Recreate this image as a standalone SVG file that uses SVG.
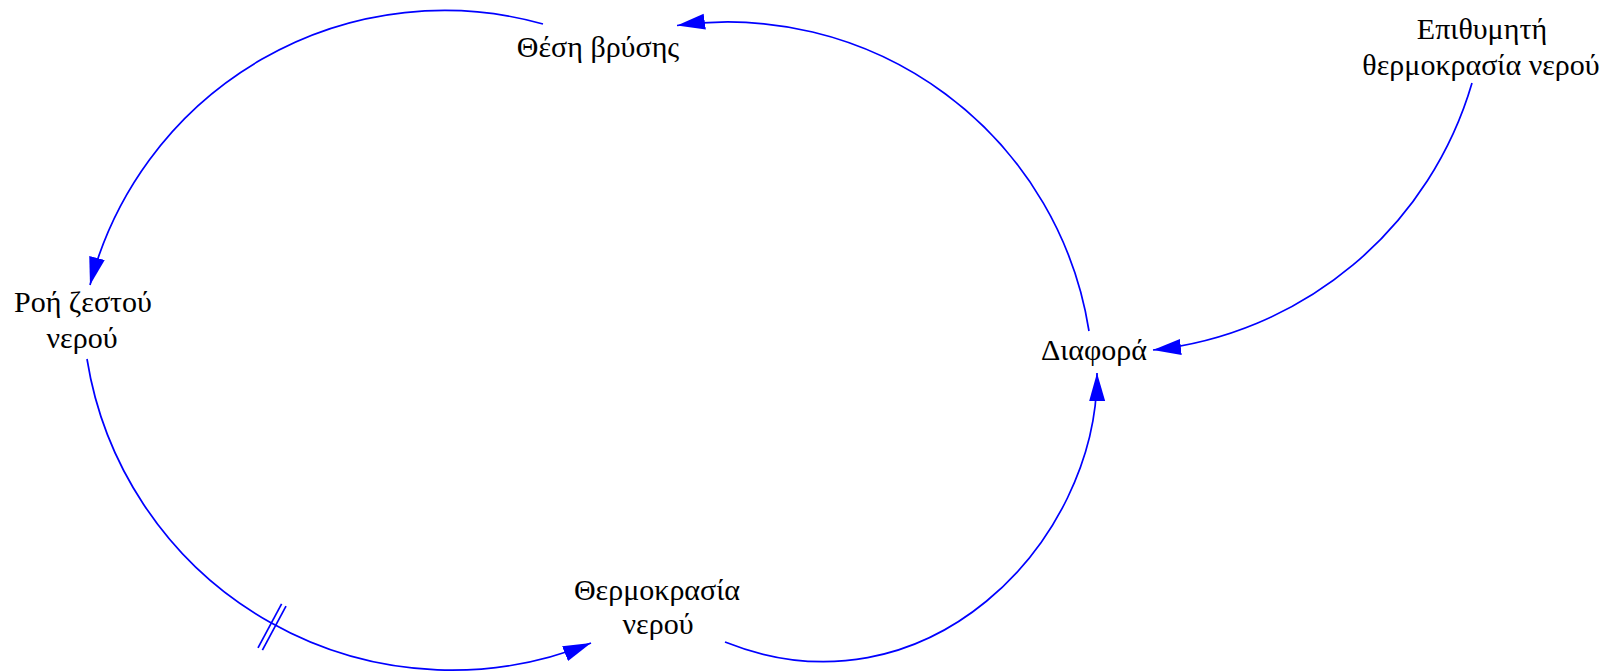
<svg xmlns="http://www.w3.org/2000/svg" width="1622" height="672" viewBox="0 0 1622 672">
<style>
text{font-family:"Liberation Serif","Times New Roman",serif;font-size:30px;fill:#000;text-anchor:middle}
.c{fill:none;stroke:#0000ff;stroke-width:1.7}
</style>
<defs>
<marker id="ah" markerUnits="userSpaceOnUse" markerWidth="30" markerHeight="18" refX="28" refY="8" orient="auto">
<path d="M0,0 L28,8 L0,16 Z" fill="#0000ff"/>
</marker>
</defs>
<rect width="1622" height="672" fill="#fff"/>
<g id="connectors">
<path class="c" marker-end="url(#ah)" d="M543,24 A366,366 0 0,0 90,285"/>
<path class="c" marker-end="url(#ah)" d="M87,359 A369.5,369.5 0 0,0 591,643"/>
<path class="c" marker-end="url(#ah)" d="M725,642 C925,722 1098,543 1097,373"/>
<path class="c" marker-end="url(#ah)" d="M1089,331 A366,366 0 0,0 677,25.5"/>
<path class="c" marker-end="url(#ah)" d="M1472,83 A374,374 0 0,1 1153,350"/>
<line class="c" x1="258" y1="647.8" x2="281.6" y2="603.8"/>
<line class="c" x1="262.4" y1="650.2" x2="286" y2="606.2"/>
</g>
<g id="node-thesi"><text x="598" y="57">Θέση βρύσης</text></g>
<g id="node-epithymiti"><text x="1482" y="39">Επιθυμητή</text><text x="1481" y="75">θερμοκρασία νερού</text></g>
<g id="node-roi"><text x="83" y="312">Ροή ζεστού</text><text x="82" y="348">νερού</text></g>
<g id="node-diafora"><text x="1094" y="360">Διαφορά</text></g>
<g id="node-thermokrasia"><text x="657" y="600">Θερμοκρασία</text><text x="658" y="634">νερού</text></g>
</svg>
